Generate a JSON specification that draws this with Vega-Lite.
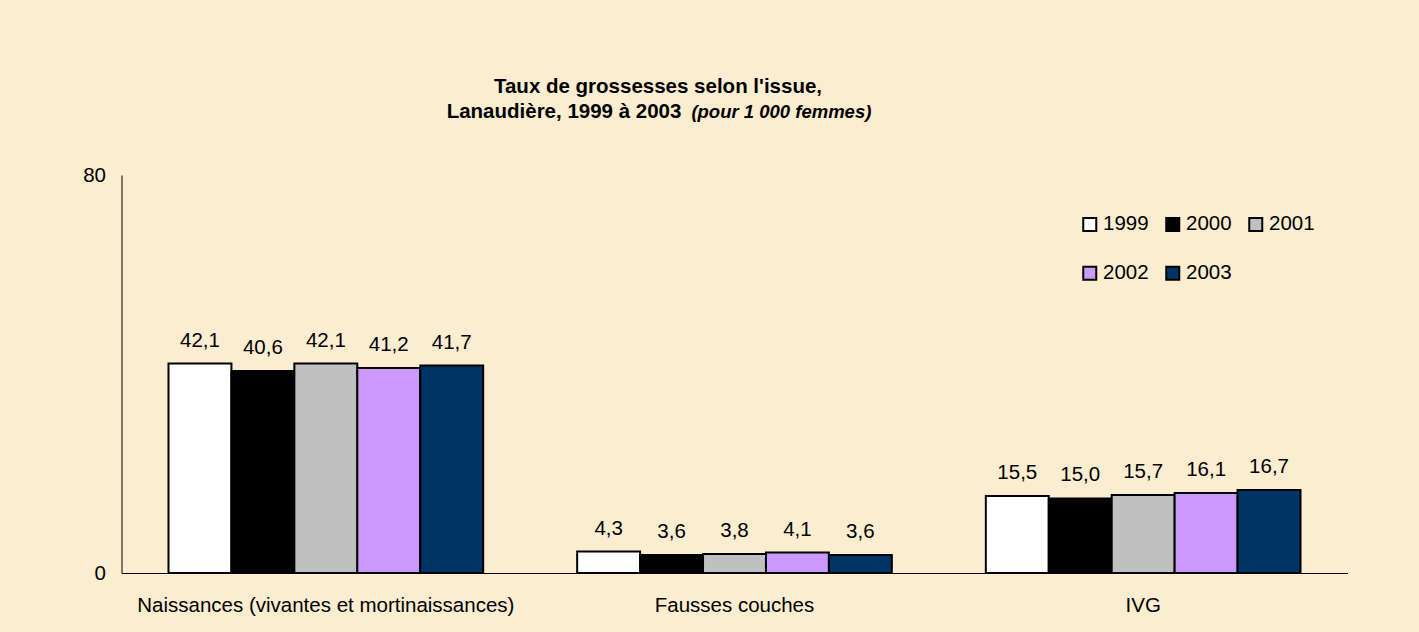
{
  "$schema": "https://vega.github.io/schema/vega-lite/v6.json",
  "autosize": {"type": "none"},
  "width": 1226,
  "height": 398,
  "padding": {"left": 121.5, "top": 175, "right": 71.5, "bottom": 59},
  "background": "#FBEDD0",
  "title": {
    "text": ["Taux de grossesses selon l'issue,", "Lanaudière, 1999 à 2003\u00a0\u00a0\u00a0\u00a0\u00a0\u00a0\u00a0\u00a0\u00a0\u00a0\u00a0\u00a0\u00a0\u00a0\u00a0\u00a0\u00a0\u00a0\u00a0\u00a0\u00a0\u00a0\u00a0\u00a0\u00a0\u00a0\u00a0\u00a0\u00a0\u00a0\u00a0\u00a0\u00a0\u200b"],
    "subtitle": "\u200b\u00a0\u00a0\u00a0\u00a0\u00a0\u00a0\u00a0\u00a0\u00a0\u00a0\u00a0\u00a0\u00a0\u00a0\u00a0\u00a0\u00a0\u00a0\u00a0\u00a0\u00a0\u00a0\u00a0\u00a0\u00a0\u00a0\u00a0\u00a0\u00a0\u00a0\u00a0\u00a0\u00a0\u00a0\u00a0\u00a0\u00a0\u00a0\u00a0\u00a0\u00a0\u00a0\u00a0\u00a0\u00a0\u00a0\u00a0\u00a0(pour 1 000 femmes)",
    "anchor": "middle",
    "frame": "group",
    "dx": -76.5,
    "offset": 43,
    "font": "Liberation Sans",
    "fontSize": 20.5,
    "fontWeight": "bold",
    "color": "black",
    "lineHeight": 25,
    "subtitleFont": "Liberation Sans",
    "subtitleFontSize": 18.5,
    "subtitleFontWeight": "bold",
    "subtitleFontStyle": "italic",
    "subtitleColor": "black",
    "subtitlePadding": -19
  },
  "data": {
    "values": [
      {"issue": "Naissances (vivantes et mortinaissances)", "annee": "1999", "taux": 42.1},
      {"issue": "Naissances (vivantes et mortinaissances)", "annee": "2000", "taux": 40.6},
      {"issue": "Naissances (vivantes et mortinaissances)", "annee": "2001", "taux": 42.1},
      {"issue": "Naissances (vivantes et mortinaissances)", "annee": "2002", "taux": 41.2},
      {"issue": "Naissances (vivantes et mortinaissances)", "annee": "2003", "taux": 41.7},
      {"issue": "Fausses couches", "annee": "1999", "taux": 4.3},
      {"issue": "Fausses couches", "annee": "2000", "taux": 3.6},
      {"issue": "Fausses couches", "annee": "2001", "taux": 3.8},
      {"issue": "Fausses couches", "annee": "2002", "taux": 4.1},
      {"issue": "Fausses couches", "annee": "2003", "taux": 3.6},
      {"issue": "IVG", "annee": "1999", "taux": 15.5},
      {"issue": "IVG", "annee": "2000", "taux": 15.0},
      {"issue": "IVG", "annee": "2001", "taux": 15.7},
      {"issue": "IVG", "annee": "2002", "taux": 16.1},
      {"issue": "IVG", "annee": "2003", "taux": 16.7}
    ]
  },
  "encoding": {
    "x": {
      "field": "issue", "type": "nominal", "sort": null,
      "scale": {"paddingInner": 0.23, "paddingOuter": 0.115},
      "axis": {"title": null, "labelAngle": 0, "ticks": false, "labelPadding": 22, "labelLimit": 0, "domainColor": "black", "domainWidth": 1, "labelFontSize": 20.5, "labelColor": "black", "labelFont": "Liberation Sans"}
    },
    "xOffset": {"field": "annee", "type": "nominal", "sort": null, "scale": {"paddingInner": 0, "paddingOuter": 0}},
    "y": {
      "field": "taux", "type": "quantitative",
      "scale": {"domain": [0, 80], "nice": false},
      "axis": {"title": null, "values": [0, 80], "grid": false, "ticks": false, "labelPadding": 16, "domainColor": "black", "domainWidth": 1, "labelFontSize": 20.5, "labelColor": "black", "labelFont": "Liberation Sans"}
    }
  },
  "layer": [
    {
      "mark": {"type": "bar", "stroke": "black", "strokeWidth": 2},
      "encoding": {
        "fill": {
          "field": "annee", "type": "nominal",
          "scale": {"domain": ["1999", "2000", "2001", "2002", "2003"], "range": ["#FFFFFF", "#000000", "#C0C0C0", "#CC99FF", "#003366"]},
          "legend": {
            "title": null, "orient": "none", "legendX": 958, "legendY": 39, "columns": 3, "direction": "horizontal",
            "symbolType": "square", "symbolSize": 169, "symbolStrokeColor": "black", "symbolStrokeWidth": 2, "symbolOpacity": 1,
            "labelFontSize": 20.5, "labelFont": "Liberation Sans", "labelColor": "black", "labelOffset": 3,
            "columnPadding": 12, "rowPadding": 27, "padding": 0
          }
        }
      }
    },
    {
      "mark": {"type": "text", "baseline": "alphabetic", "dy": -17, "fontSize": 20.5, "font": "Liberation Sans", "color": "black"},
      "encoding": {
        "text": {"field": "taux", "type": "quantitative", "format": ".1f"}
      }
    }
  ],
  "config": {
    "view": {"stroke": null},
    "locale": {"number": {"decimal": ",", "thousands": " ", "grouping": [3], "currency": ["", " $"]}}
  }
}
